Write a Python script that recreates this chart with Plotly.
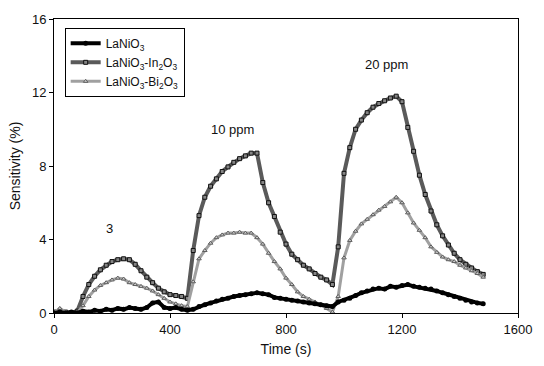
import plotly.graph_objects as go

time_s = [0, 20, 40, 60, 80, 100, 120, 140, 160, 180, 200, 220, 240, 260, 280, 300,
          320, 340, 360, 380, 400, 420, 440, 460, 480, 500, 520, 540, 560, 580, 600,
          620, 640, 660, 680, 700, 720, 740, 760, 780, 800, 820, 840, 860, 880, 900,
          920, 940, 960, 980, 1000, 1020, 1040, 1060, 1080, 1100, 1120, 1140, 1160,
          1180, 1200, 1220, 1240, 1260, 1280, 1300, 1320, 1340, 1360, 1380, 1400,
          1420, 1440, 1460, 1480]

lanio3 = [0.0, 0.05, 0.0, 0.05, 0.0, 0.1, 0.05, 0.15, 0.1, 0.2, 0.15, 0.25, 0.2, 0.3,
          0.25, 0.2, 0.3, 0.55, 0.6, 0.3, 0.25, 0.3, 0.2, 0.15, 0.2, 0.35, 0.45, 0.55,
          0.65, 0.75, 0.8, 0.9, 0.95, 1.0, 1.05, 1.1, 1.05, 1.0, 0.85, 0.8, 0.75, 0.7,
          0.65, 0.6, 0.55, 0.5, 0.45, 0.4, 0.35, 0.6, 0.7, 0.8, 0.95, 1.1, 1.2, 1.3,
          1.35, 1.3, 1.45, 1.4, 1.5, 1.55, 1.45, 1.4, 1.35, 1.3, 1.2, 1.1, 1.0, 0.9,
          0.8, 0.7, 0.6, 0.55, 0.5]

lanio3_in2o3 = [0.05, 0.1, 0.05, 0.0, 0.1, 0.9, 1.55, 2.0, 2.35, 2.6, 2.8, 2.9, 2.95,
                2.9, 2.65, 2.3, 1.95, 1.65, 1.35, 1.15, 1.0, 0.95, 0.9, 0.8, 3.4, 5.3,
                6.3, 6.9, 7.3, 7.7, 7.95, 8.2, 8.4, 8.55, 8.7, 8.7, 7.1, 6.0, 5.25, 4.4,
                3.75, 3.2, 2.9, 2.6, 2.4, 2.15, 1.95, 1.8, 1.55, 3.6, 7.6, 9.0, 10.0,
                10.5, 10.9, 11.2, 11.4, 11.55, 11.7, 11.8, 11.5, 10.1, 8.8, 7.5, 6.45,
                5.55, 4.8, 4.2, 3.7, 3.25, 2.9, 2.65, 2.45, 2.25, 2.1]

lanio3_bi2o3 = [0.0, 0.25, 0.05, 0.0, 0.0, 0.4, 0.9, 1.25, 1.5, 1.65, 1.8, 1.9, 1.85,
                1.65, 1.55, 1.45, 1.35, 1.2, 1.0, 0.8, 0.6, 0.5, 0.4, 0.35, 1.7, 2.95,
                3.4, 3.8, 4.1, 4.25, 4.35, 4.35, 4.4, 4.35, 4.35, 4.1, 3.75, 3.25, 2.8,
                2.4, 1.9, 1.55, 1.15, 0.9, 0.75, 0.6, 0.45, 0.25, 0.05, 0.9, 3.0, 3.95,
                4.45, 4.85, 5.1, 5.35, 5.6, 5.8, 6.05, 6.3, 6.0, 5.45, 4.9, 4.5, 4.1,
                3.6, 3.3, 3.05, 2.9, 2.8, 2.6, 2.45, 2.3, 2.15, 1.95]

x_ticks = [0, 400, 800, 1200, 1600]
y_ticks = [0, 4, 8, 12, 16]

labels = ["3", "10 ppm", "20 ppm"]
label_x = [192, 615, 1147]
label_y = [4.6, 10.0, 13.5]

fig = go.Figure()

fig.add_trace(go.Scatter(
    x=time_s, y=lanio3_in2o3, mode="lines+markers",
    name="LaNiO<sub>3</sub>-In<sub>2</sub>O<sub>3</sub>", legendrank=2,
    line=dict(color="#5a5a5a", width=4),
    marker=dict(symbol="square", size=4, color="#858585",
                line=dict(color="#111111", width=1)),
))
fig.add_trace(go.Scatter(
    x=time_s, y=lanio3_bi2o3, mode="lines+markers",
    name="LaNiO<sub>3</sub>-Bi<sub>2</sub>O<sub>3</sub>", legendrank=3,
    line=dict(color="#a0a0a0", width=3),
    marker=dict(symbol="triangle-up", size=4, color="#cfcfcf",
                line=dict(color="#5e5e5e", width=1)),
))
fig.add_trace(go.Scatter(
    x=time_s, y=lanio3, mode="lines+markers",
    name="LaNiO<sub>3</sub>", legendrank=1,
    line=dict(color="#000000", width=4),
    marker=dict(symbol="circle", size=5, color="#000000"),
))

for t, xv, yv in zip(labels, label_x, label_y):
    fig.add_annotation(x=xv, y=yv, text=t, showarrow=False,
                       font=dict(family="Arial, Liberation Sans", size=13, color="#111111"))

axis_common = dict(
    showline=True, linecolor="#000000", linewidth=1, mirror=True,
    ticks="outside", ticklen=4, tickcolor="#000000", showgrid=False, zeroline=False,
    tickfont=dict(family="Arial, Liberation Sans", size=13, color="#111111"),
)

fig.update_layout(
    width=544, height=366,
    margin=dict(l=54, r=15, t=19, b=49),
    paper_bgcolor="white", plot_bgcolor="white",
    font=dict(family="Arial, Liberation Sans", color="#111111"),
    showlegend=True,
    legend=dict(x=0.023, y=0.97, xanchor="left", yanchor="top",
                bordercolor="#000000", borderwidth=1, bgcolor="white",
                font=dict(family="Arial, Liberation Sans", size=12, color="#111111"),
                tracegroupgap=0, itemwidth=30),
    xaxis=dict(range=[0, 1600], tickvals=x_ticks,
               title=dict(text="Time (s)", font=dict(size=14), standoff=8),
               **axis_common),
    yaxis=dict(range=[0, 16], tickvals=y_ticks,
               title=dict(text="Sensitivity (%)", font=dict(size=14), standoff=8),
               **axis_common),
)

fig.write_html("out.html")
